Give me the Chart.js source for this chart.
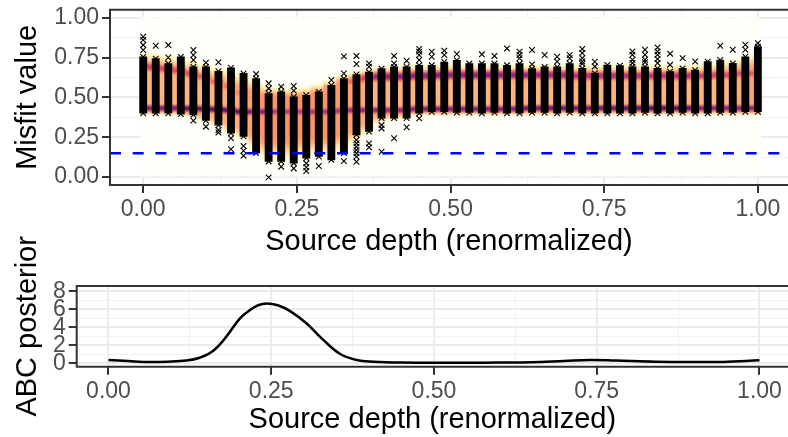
<!DOCTYPE html>
<html lang="en">
<head>
<meta charset="UTF-8">
<title>Misfit and ABC posterior</title>
<script src="https://cdn.jsdelivr.net/npm/chart.js"></script>
<style>
  html, body { margin: 0; padding: 0; background: #fff; overflow: hidden; }
  canvas { position: absolute; left: 0; }
</style>
</head>
<body>
<canvas id="misfit" width="788" height="260" style="top:0"></canvas>
<canvas id="posterior" width="788" height="217" style="top:220px"></canvas>
<script>
// top panel, one entry per source depth column
const depthCount = 50;
const stackLo = [.40,.40,.40,.395,.39,.355,.325,.275,.255,.15,.098,.098,.087,.119,.129,.108,.15,.265,.286,.37,.37,.37,.40,.41,.41,.405,.405,.40,.405,.40,.40,.405,.405,.40,.405,.40,.40,.40,.40,.40,.405,.40,.40,.405,.40,.40,.405,.405,.41,.41];
const stackHi = [.754,.743,.712,.754,.691,.691,.664,.685,.65,.618,.524,.534,.503,.513,.534,.576,.618,.643,.658,.68,.691,.691,.701,.701,.722,.733,.712,.712,.712,.701,.712,.68,.691,.691,.712,.682,.65,.703,.699,.692,.692,.682,.661,.682,.671,.724,.734,.713,.755,.818];
const strayMarks = [[.88,.86,.829,.797],[.824],[.828,.75],[],[.797,.766,.734,.354],[.718,.316],[.72,.295,.28],[.243,.174],[.195,.165,.134],[.646],[.588,.556,-.002],[.567,.065],[.571,.542,.054],[.086,.061,.038],[.069],[.609],[.65,.757,.10],[.709,.76,.232,.211,.19,.169,.149,.128,.096],[.692,.713,.211,.186],[.326,.305,.159],[.76,.713,.243],[.73,.312],[.734,.766,.787,.803,.368],[.755,.787],[.766,.793],[.772],[],[.77],[.76],[.807],[.787,.766,.745],[.797,.707],[.766],[.755,.724],[.766,.745],[.803,.778,.746,.725,.71],[.723,.694],[],[],[.788,.767,.736,.715],[.799,.767,.736,.72],[.813,.788,.767,.74,.715],[.774,.704],[.746],[.725],[],[.824],[.799],[.83,.799],[.84]];

// density band behind the marks
const heatLo = [.385,.385,.385,.385,.37,.34,.31,.26,.22,.15,.08,.07,.07,.09,.10,.10,.13,.18,.25,.33,.35,.36,.38,.385,.385,.385,.385,.385,.385,.385,.385,.385,.385,.385,.385,.385,.385,.385,.385,.385,.385,.385,.385,.385,.385,.385,.385,.385,.385,.385];
const heatHi = [.80,.79,.78,.77,.75,.73,.71,.70,.68,.65,.60,.58,.57,.58,.60,.62,.65,.67,.69,.70,.71,.72,.72,.72,.72,.73,.72,.72,.72,.72,.72,.72,.72,.72,.72,.72,.72,.72,.72,.72,.72,.72,.72,.72,.72,.73,.74,.75,.77,.80];
const heatBase = [.33,.33,.33,.33,.33,.33,.33,.34,.36,.38,.42,.42,.42,.42,.42,.42,.40,.38,.36,.34,.33,.33,.33,.33,.33,.33,.33,.33,.33,.33,.33,.33,.33,.33,.33,.33,.33,.33,.33,.33,.33,.33,.33,.33,.33,.33,.33,.33,.36,.38];
const ridgeUp = [.70,.69,.68,.67,.65,.63,.60,.57,.53,.50,.48,.48,.48,.48,.50,.54,.58,.60,.62,.63,.63,.63,.635,.635,.64,.64,.64,.64,.64,.64,.64,.64,.64,.64,.64,.635,.635,.635,.635,.635,.635,.635,.635,.635,.635,.635,.64,.64,.65,.65];
const ridgeUpPeak = [.68,.68,.66,.64,.64,.58,.55,.52,.48,.42,.3,.3,.3,.3,.3,.3,.38,.55,.68,.82,.85,.85,.85,.85,.85,.84,.84,.84,.84,.84,.84,.82,.8,.8,.8,.76,.76,.76,.76,.74,.74,.74,.74,.74,.74,.68,.66,.64,.62,.58];
const ridgeLow = [.432,.432,.432,.432,.43,.428,.425,.42,.41,.41,.41,.41,.41,.41,.41,.41,.415,.42,.42,.42,.42,.42,.427,.427,.427,.427,.427,.427,.427,.427,.427,.432,.432,.432,.432,.432,.432,.432,.432,.432,.432,.432,.432,.432,.432,.432,.432,.432,.432,.432];
const ridgeLowPeak = [.92,.92,.92,.92,1,1,1,1,1,.92,.9,.76,.76,.76,.8,.8,.8,.86,.86,.86,.86,.86,.9,.9,.9,.9,.9,.9,.9,.9,.9,.95,.95,.95,.95,.95,.95,.95,.95,1,1,1,1,1,1,.88,.88,.88,.88,.88];
const cutoff = [0.15];

// bottom panel
const curveDepth = [0,.03,.064,.09,.12,.14,.161,.181,.202,.217,.23,.243,.26,.279,.304,.33,.356,.381,.407,.45,.5,.55,.6,.65,.7,.74,.78,.84,.9,.944,1];
const curveDensity = [.37,.25,.14,.17,.3,.62,1.4,2.96,5.0,5.9,6.45,6.65,6.45,5.8,4.45,2.6,1.03,.37,.18,.08,.07,.07,.08,.12,.26,.37,.3,.18,.14,.15,.33];

// ticks
const depthMajor = [0,.25,.5,.75,1];
const depthMinor = [.125,.375,.625,.875];
const misfitMajor = [0,.25,.5,.75,1];
const misfitMinor = [.125,.375,.625,.875];
const postMajor = [0,2,4,6,8];
const postMinor = [1,3,5,7];

const magma = [[0,255,255,250],[.12,253,245,191],[.25,254,212,154],[.38,253,162,111],[.5,247,115,92],[.6,222,73,104],[.72,181,54,122],[.85,114,31,129],[1,35,17,81]];
function magmaColor(t) {
  t = Math.min(1, Math.max(0, t));
  for (let i = 1; i < magma.length; i++) {
    if (t <= magma[i][0]) {
      const a = magma[i - 1], b = magma[i], f = (t - a[0]) / (b[0] - a[0]);
      return `rgb(${a[1] + (b[1] - a[1]) * f},${a[2] + (b[2] - a[2]) * f},${a[3] + (b[3] - a[3]) * f})`;
    }
  }
  return 'rgb(35,17,81)';
}
function smooth(a, b, v) {
  const f = Math.min(1, Math.max(0, (v - a) / (b - a)));
  return f * f * (3 - 2 * f);
}
function bandLevel(i, v) {
  const softLo = Math.max(.012, (ridgeLow[i] - heatLo[i]) * .5);
  const softHi = Math.max(.03, (heatHi[i] - ridgeUp[i]) * .8);
  const base = heatBase[i] * smooth(heatLo[i], heatLo[i] + softLo, v) * (1 - smooth(heatHi[i] - softHi, heatHi[i], v));
  const up = ridgeUpPeak[i] * Math.exp(-Math.pow((v - ridgeUp[i]) / .034, 2));
  const low = ridgeLowPeak[i] * Math.exp(-Math.pow((v - ridgeLow[i]) / .024, 2));
  return Math.max(base, up, low);
}
function bandGradient(c) {
  const chart = c.chart;
  if (!chart.chartArea || c.dataIndex === undefined) return '#fffffa';
  const y = chart.scales.y;
  const g = chart.ctx.createLinearGradient(0, y.getPixelForValue(0), 0, y.getPixelForValue(1));
  for (let s = 0; s <= 160; s++) g.addColorStop(s / 160, magmaColor(bandLevel(c.dataIndex, s / 160)));
  return g;
}

const fontName = '"Liberation Sans", Arial, sans-serif';
function axisStyle(major, minor, title, fmt, place) {
  const all = major.concat(minor).sort((a, b) => a - b);
  return {
    type: 'linear',
    offset: false,
    min: place.min,
    max: place.max,
    afterBuildTicks: s => { s.ticks = all.map(v => ({ value: v })); },
    afterFit: s => {
      if (place.width) s.width = place.width;
      if (place.height) s.height = place.height;
      s.paddingLeft = s.paddingRight = s.paddingTop = s.paddingBottom = 0;
    },
    border: { display: false },
    grid: {
      offset: false,
      tickLength: 8,
      color: c => major.includes(c.tick.value) ? '#ebebeb' : '#f0f0f0',
      lineWidth: c => major.includes(c.tick.value) ? 2 : 1,
      tickColor: c => major.includes(c.tick.value) ? '#333333' : 'rgba(0,0,0,0)',
      tickWidth: 2
    },
    ticks: {
      autoSkip: false,
      maxRotation: 0,
      padding: 3,
      color: '#4d4d4d',
      font: { family: fontName, size: 23 },
      callback: v => major.includes(v) ? fmt(v) : ''
    },
    title: { display: true, text: title, color: '#000', padding: 0, font: { family: fontName, size: 29 } }
  };
}

// dark panel edge on the three sides that fall inside the window, light blur for the density raster
const panelEdge = {
  id: 'panelEdge',
  beforeDatasetDraw(chart, args) {
    if (chart.data.datasets[args.index].label === 'density') chart.ctx.filter = 'blur(1px)';
  },
  afterDatasetDraw(chart, args) {
    if (chart.data.datasets[args.index].label === 'density') chart.ctx.filter = 'none';
  },
  afterDatasetsDraw(chart) {
    const a = chart.chartArea, ctx = chart.ctx;
    ctx.save();
    ctx.strokeStyle = '#333333';
    ctx.lineWidth = 2;
    ctx.beginPath();
    ctx.moveTo(a.right, a.top);
    ctx.lineTo(a.left, a.top);
    ctx.lineTo(a.left, a.bottom);
    ctx.lineTo(a.right, a.bottom);
    ctx.stroke();
    ctx.restore();
  }
};

const depths = Array.from({ length: depthCount }, (_, i) => i / (depthCount - 1));
const marks = [];
depths.forEach((d, i) => {
  marks.push({ x: d, y: stackLo[i] }, { x: d, y: stackHi[i] });
  strayMarks[i].forEach(v => marks.push({ x: d, y: v }));
});

new Chart(document.getElementById('misfit'), {
  type: 'scatter',
  data: {
    datasets: [
      {
        label: 'density', type: 'bar', order: 4, grouped: false,
        data: depths.map(d => ({ x: d, y: [0, 1] })),
        backgroundColor: bandGradient, barThickness: 16, borderWidth: 0,
        clip: { left: -30, right: -27, top: 0, bottom: 0 }
      },
      {
        label: 'stack', type: 'bar', order: 3, grouped: false,
        data: depths.map((d, i) => ({ x: d, y: [stackLo[i], stackHi[i]] })),
        backgroundColor: '#000', barThickness: 7.2, borderWidth: 0
      },
      {
        label: 'marks', order: 2, data: marks,
        pointStyle: 'crossRot', pointRadius: 4, pointBorderColor: '#000', pointBorderWidth: 1.1, pointBackgroundColor: '#000'
      },
      {
        label: 'cutoff', type: 'line', order: 1,
        data: [{ x: -.054, y: cutoff[0] }, { x: 1.049, y: cutoff[0] }],
        borderColor: '#0000ff', borderWidth: 2.5, borderDash: [11, 11.7], pointRadius: 0
      }
    ]
  },
  options: {
    responsive: false,
    animation: false,
    layout: { autoPadding: false, padding: { top: 9.7, left: 11, right: 0, bottom: 1 } },
    plugins: { legend: { display: false }, tooltip: { enabled: false } },
    scales: {
      x: axisStyle(depthMajor, depthMinor, 'Source depth (renormalized)', v => v.toFixed(2), { min: -.054, max: 1.049, height: 74 }),
      y: axisStyle(misfitMajor, misfitMinor, 'Misfit value', v => v.toFixed(2), { min: -.05, max: 1.05, width: 99 })
    }
  },
  plugins: [panelEdge]
});

new Chart(document.getElementById('posterior'), {
  type: 'line',
  data: {
    datasets: [{
      data: curveDepth.map((d, i) => ({ x: d, y: curveDensity[i] })),
      borderColor: '#000', borderWidth: 2.5, pointRadius: 0, tension: .4
    }]
  },
  options: {
    responsive: false,
    animation: false,
    layout: { autoPadding: false, padding: { top: 66, left: 11, right: 0, bottom: 0 } },
    plugins: { legend: { display: false }, tooltip: { enabled: false } },
    scales: {
      x: axisStyle(depthMajor, depthMinor, 'Source depth (renormalized)', v => v.toFixed(2), { min: -.0488, max: 1.0438, height: 70.3 }),
      y: axisStyle(postMajor, postMinor, 'ABC posterior', v => String(v), { min: -.38, max: 8.59, width: 65.7 })
    }
  },
  plugins: [panelEdge]
});
</script>
</body>
</html>
